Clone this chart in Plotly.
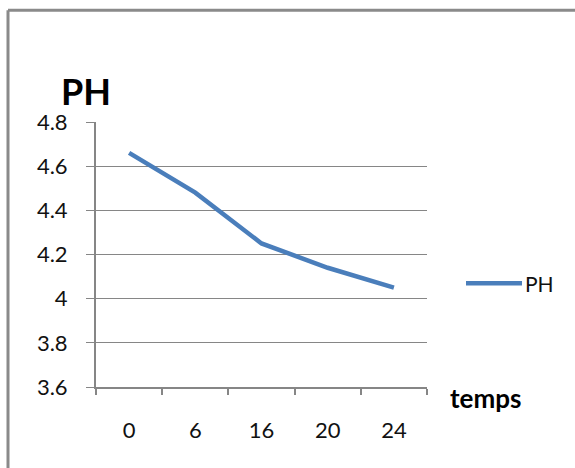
import plotly.graph_objects as go

temps = ["0", "6", "16", "20", "24"]
ph = [4.66, 4.48, 4.25, 4.14, 4.05]
y_ticks = [3.6, 3.8, 4.0, 4.2, 4.4, 4.6, 4.8]
y_ticktext = ["3.6", "3.8", "4", "4.2", "4.4", "4.6", "4.8"]

W, H = 575, 468
L, R, T, B = 96, 148, 121.5, 81
pw, ph_h = W - L - R, H - T - B

def px(x):
    return (x - L) / pw

def py(y):
    return (H - B - y) / ph_h

FONT = "Lato, 'Open Sans', sans-serif"
GRID = "#868686"
BLUE = "#4a7ebb"

fig = go.Figure()
fig.add_trace(go.Scatter(x=temps, y=ph, mode="lines", name="PH",
                         line=dict(color=BLUE, width=4.5), showlegend=False))

fig.update_layout(
    width=W, height=H,
    margin=dict(l=L, r=R, t=T, b=B),
    paper_bgcolor="white", plot_bgcolor="white",
    font=dict(family=FONT, size=22, color="#111"),
    xaxis=dict(type="category", range=[-0.5, 4.5], tickson="boundaries",
               ticks="outside", ticklen=6, tickcolor=GRID, tickwidth=1.5,
               showline=True, linecolor=GRID, linewidth=1.5,
               showgrid=False, ticklabelstandoff=23,
               tickfont=dict(size=22, family=FONT)),
    yaxis=dict(range=[3.6, 4.8], tickvals=y_ticks, ticktext=y_ticktext,
               ticks="outside", ticklen=8, tickcolor=GRID, tickwidth=1,
               showline=True,
               linecolor=GRID, linewidth=2,
               showgrid=True, gridcolor=GRID, gridwidth=1,
               zeroline=False, ticklabelstandoff=14,
               tickfont=dict(size=22, family=FONT)),
    shapes=[
        dict(type="line", xref="paper", yref="paper",
             x0=px(8), x1=px(8), y0=py(9.5), y1=py(470),
             line=dict(color="#8a8a8a", width=3)),
        dict(type="line", xref="paper", yref="paper",
             x0=px(8), x1=px(580), y0=py(9.5), y1=py(9.5),
             line=dict(color="#8a8a8a", width=3)),
        dict(type="line", xref="paper", yref="paper",
             x0=px(466), x1=px(522), y0=py(283), y1=py(283),
             line=dict(color=BLUE, width=4.5)),
    ],
    annotations=[
        dict(text="<b>PH</b>", xref="paper", yref="paper",
             x=px(59), y=py(90), xanchor="left", yanchor="middle",
             showarrow=False, font=dict(size=36, family=FONT, color="#000")),
        dict(text="<b>temps</b>", xref="paper", yref="paper",
             x=px(448), y=py(398), xanchor="left", yanchor="middle",
             showarrow=False, font=dict(size=26, family=FONT, color="#000")),
        dict(text="PH", xref="paper", yref="paper",
             x=px(523), y=py(283), xanchor="left", yanchor="middle",
             showarrow=False, font=dict(size=21, family=FONT, color="#111")),
    ],
)

fig.write_html("out.html")
